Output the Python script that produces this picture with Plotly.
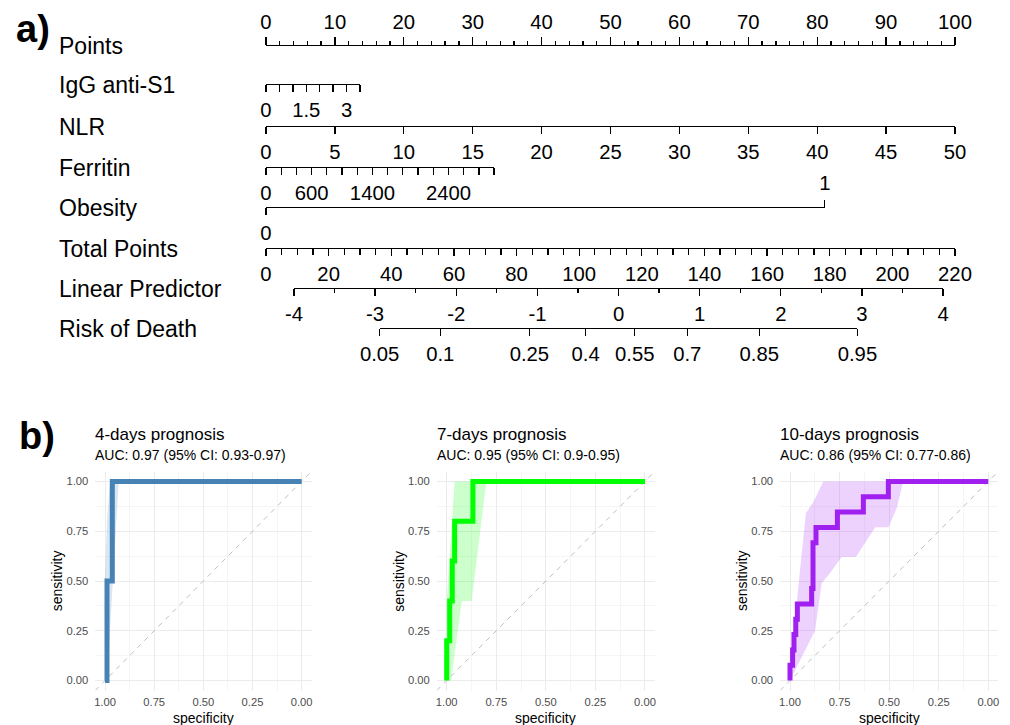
import math
import numpy as np
import plotly.graph_objects as go

W, H = 1010, 725
FONT = "Liberation Sans, Arial, sans-serif"

# ---------------- (a) Nomogram data ----------------
row_names = ["Points", "IgG anti-S1", "NLR", "Ferritin", "Obesity",
             "Total Points", "Linear Predictor", "Risk of Death"]

points_labels = list(range(0, 101, 10))
points_minor = list(range(0, 101, 2))

igg_labels = [0, 1.5, 3]
igg_minor = [0, 0.5, 1, 1.5, 2, 2.5, 3, 3.5]
igg_points_per_unit = 3.897

nlr_labels = list(range(0, 51, 5))
nlr_points_per_unit = 2.0

ferritin_labels = [0, 600, 1400, 2400]
ferritin_minor = list(range(0, 3001, 200))
ferritin_points_per_unit = 0.011033

obesity_levels = [0, 1]
obesity_points = [0, 81.1]

total_points_labels = list(range(0, 221, 20))
total_points_minor = list(range(0, 221, 5))
total_points_max = 220

lp_labels = [-4, -3, -2, -1, 0, 1, 2, 3, 4]
lp_minor = [-4, -3.5, -3, -2.5, -2, -1.5, -1, -0.5, 0, 0.5, 1, 1.5, 2, 2.5, 3, 3.5, 4]
lp_intercept = -4.345        # linear predictor at 0 total points
lp_per_total_point = 0.0386

risk_labels = [0.05, 0.1, 0.25, 0.4, 0.55, 0.7, 0.85, 0.95]

# ---------------- (b) ROC data ----------------
roc_titles = ["4-days prognosis", "7-days prognosis", "10-days prognosis"]
roc_subtitles = ["AUC: 0.97 (95% CI: 0.93-0.97)",
                 "AUC: 0.95 (95% CI: 0.9-0.95)",
                 "AUC: 0.86 (95% CI: 0.77-0.86)"]
roc_colors = ["#4682B4", "#00FF00", "#A020F0"]
roc_fills = ["rgba(70,130,180,0.2)", "rgba(0,255,0,0.2)", "rgba(160,32,240,0.2)"]

roc4_spec = [1.0, 0.99, 0.99, 0.963, 0.963, 0.0]
roc4_sens = [0.0, 0.0, 0.5, 0.5, 1.0, 1.0]
ci4_upper_spec = [1.0, 0.99, 0.975, 0.93]
ci4_upper_sens = [0.5, 0.8, 1.0, 1.0]
ci4_lower_spec = [0.93, 0.95, 0.975, 0.99, 1.0]
ci4_lower_sens = [1.0, 0.67, 0.25, 0.0, 0.0]

roc7_spec = [1.0, 1.0, 0.985, 0.985, 0.972, 0.972, 0.96, 0.96, 0.868, 0.868, 0.0]
roc7_sens = [0.0, 0.2, 0.2, 0.4, 0.4, 0.6, 0.6, 0.8, 0.8, 1.0, 1.0]
ci7_upper_spec = [1.0, 0.978, 0.96, 0.80]
ci7_upper_sens = [0.4, 0.73, 1.0, 1.0]
ci7_lower_spec = [0.80, 0.874, 0.924, 0.978, 1.0]
ci7_lower_sens = [1.0, 0.4, 0.4, 0.0, 0.0]

roc10_spec = [1.0, 1.0, 0.987, 0.987, 0.98, 0.98, 0.971, 0.971, 0.963, 0.963,
              0.891, 0.891, 0.884, 0.884, 0.869, 0.869, 0.761, 0.761,
              0.63, 0.63, 0.504, 0.504, 0.0]
roc10_sens = [0.0, 0.077, 0.077, 0.154, 0.154, 0.231, 0.231, 0.308, 0.308, 0.385,
              0.385, 0.462, 0.462, 0.692, 0.692, 0.769, 0.769, 0.846,
              0.846, 0.923, 0.923, 1.0, 1.0]
ci10_upper_spec = [1.0, 0.975, 0.95, 0.92, 0.88, 0.832, 0.43]
ci10_upper_sens = [0.0, 0.30, 0.55, 0.84, 0.90, 1.0, 1.0]
ci10_lower_spec = [0.43, 0.46, 0.504, 0.57, 0.668, 0.74, 0.798, 0.84, 0.874, 1.0]
ci10_lower_sens = [1.0, 0.87, 0.77, 0.77, 0.62, 0.62, 0.54, 0.49, 0.25, 0.0]

roc_curves = [(roc4_spec, roc4_sens), (roc7_spec, roc7_sens), (roc10_spec, roc10_sens)]
roc_cis = [(ci4_upper_spec, ci4_upper_sens, ci4_lower_spec, ci4_lower_sens),
           (ci7_upper_spec, ci7_upper_sens, ci7_lower_spec, ci7_lower_sens),
           (ci10_upper_spec, ci10_upper_sens, ci10_lower_spec, ci10_lower_sens)]
roc_ticks = [0, 0.25, 0.5, 0.75, 1.0]
roc_minor = [0.125, 0.375, 0.625, 0.875]

# ---------------- layout geometry (pixels) ----------------
X0_PX = 266.0           # pixel of 0 points
PX_PER_POINT = 6.89
row_y = [45, 84, 126, 167, 207, 248, 288, 328]
LW = 1.3
TICK_FONT = dict(family=FONT, size=20.3, color="black")

fig = go.Figure()
layout = {}


def pfrac(p):
    return (X0_PX + p * PX_PER_POINT) / W


def tp_to_points(tp):
    return tp * 100.0 / total_points_max


def lp_to_points(lp):
    return tp_to_points((lp - lp_intercept) / lp_per_total_point)


def fmt(v):
    return ("%g" % v)


axis_counter = [0]


def row_axis(p_lo, p_hi, rng, y_px, side, tickvals, ticktext, ticklen,
             minor_vals=None, minor_len=None, showline=True, standoff=0):
    axis_counter[0] += 1
    n = axis_counter[0]
    s = "" if n == 1 else str(n)
    ax = dict(domain=[pfrac(p_lo), pfrac(p_hi)], range=rng, anchor="free",
              position=1 - y_px / H, side=side, showline=showline,
              linecolor="black", linewidth=LW, ticks="outside", ticklen=ticklen,
              tickwidth=LW, tickcolor="black", tickmode="array",
              tickvals=tickvals, ticktext=ticktext, tickfont=TICK_FONT,
              showgrid=False, zeroline=False, fixedrange=True, automargin=False,
              ticklabelstandoff=standoff)
    if minor_vals is not None:
        ax["minor"] = dict(tickmode="array", tickvals=minor_vals, ticks="outside",
                           ticklen=minor_len, tickwidth=LW, tickcolor="black",
                           showgrid=False)
    layout["xaxis" + s] = ax
    layout["yaxis" + s] = dict(domain=[0, 1], range=[0, 1], visible=False,
                               fixedrange=True, automargin=False)
    fig.add_trace(go.Scatter(x=list(rng), y=[0.5, 0.5], xaxis="x" + s, yaxis="y" + s,
                             mode="markers", marker=dict(opacity=0),
                             hoverinfo="skip", showlegend=False))


# Points
row_axis(0, 100, [0, 100], row_y[0], "top", points_labels,
         [fmt(v) for v in points_labels], 8, points_minor, 4)
# IgG anti-S1
row_axis(0, igg_minor[-1] * igg_points_per_unit, [0, igg_minor[-1]], row_y[1], "bottom",
         igg_labels, [fmt(v) for v in igg_labels], 7, igg_minor, 7)
# NLR
row_axis(0, nlr_labels[-1] * nlr_points_per_unit, [0, nlr_labels[-1]], row_y[2], "bottom",
         nlr_labels, [fmt(v) for v in nlr_labels], 7)
# Ferritin
row_axis(0, ferritin_minor[-1] * ferritin_points_per_unit, [0, ferritin_minor[-1]],
         row_y[3], "bottom", ferritin_labels, [fmt(v) for v in ferritin_labels], 7,
         ferritin_minor, 7)
# Obesity (0 below, 1 above)
row_axis(obesity_points[0], obesity_points[1], [0, 1], row_y[4], "bottom",
         [obesity_levels[0]], [fmt(obesity_levels[0])], 7)
row_axis(obesity_points[0], obesity_points[1], [0, 1], row_y[4], "top",
         [obesity_levels[1]], [fmt(obesity_levels[1])], 7, showline=False, standoff=2)
# Total points
row_axis(0, 100, [0, total_points_max], row_y[5], "bottom", total_points_labels,
         [fmt(v) for v in total_points_labels], 7, total_points_minor, 6)
# Linear predictor
row_axis(lp_to_points(lp_labels[0]), lp_to_points(lp_labels[-1]),
         [lp_labels[0], lp_labels[-1]], row_y[6], "bottom", lp_labels,
         [fmt(v) for v in lp_labels], 7, lp_minor, 4)
# Risk of death (logit scale of linear predictor)
risk_lp = [math.log(p / (1 - p)) for p in risk_labels]
row_axis(lp_to_points(risk_lp[0]), lp_to_points(risk_lp[-1]),
         [risk_lp[0], risk_lp[-1]], row_y[7], "bottom", risk_lp,
         [fmt(v) for v in risk_labels], 7)

annotations = []
for name, y in zip(row_names, row_y):
    annotations.append(dict(text=name, x=57 / W, y=1 - (y + 1) / H, xref="paper", yref="paper",
                            xanchor="left", yanchor="middle", showarrow=False,
                            font=dict(family=FONT, size=23, color="black")))
annotations.append(dict(text="<b>a)</b>", x=14 / W, y=1 - 29 / H, xref="paper", yref="paper",
                        xanchor="left", yanchor="middle", showarrow=False,
                        font=dict(family=FONT, size=38, color="black")))
annotations.append(dict(text="<b>b)</b>", x=17 / W, y=1 - 436 / H, xref="paper", yref="paper",
                        xanchor="left", yanchor="middle", showarrow=False,
                        font=dict(family=FONT, size=38, color="black")))

# ---------------- ROC panels ----------------
panel_x = [(95.2, 311.5), (436.8, 654.9), (780.1, 998.2)]
panel_y = (471.5, 690.5)

for i in range(3):
    axis_counter[0] += 1
    n = axis_counter[0]
    s = str(n)
    x0, x1 = panel_x[i]
    layout["xaxis" + s] = dict(
        domain=[x0 / W, x1 / W], range=[1.05, -0.05], anchor="y" + s,
        tickmode="array", tickvals=roc_ticks, ticktext=["%.2f" % v for v in roc_ticks],
        ticks="", showline=False, zeroline=False, showgrid=True,
        gridcolor="#EBEBEB", gridwidth=1,
        minor=dict(tickmode="array", tickvals=roc_minor, showgrid=True,
                   gridcolor="#EBEBEB", gridwidth=0.5),
        tickfont=dict(family=FONT, size=11.2, color="#4D4D4D"),
        ticklabelstandoff=3, fixedrange=True, automargin=False)
    layout["yaxis" + s] = dict(
        domain=[1 - panel_y[1] / H, 1 - panel_y[0] / H], range=[-0.05, 1.05],
        anchor="x" + s,
        tickmode="array", tickvals=roc_ticks, ticktext=["%.2f" % v for v in roc_ticks],
        ticks="", showline=False, zeroline=False, showgrid=True,
        gridcolor="#EBEBEB", gridwidth=1,
        minor=dict(tickmode="array", tickvals=roc_minor, showgrid=True,
                   gridcolor="#EBEBEB", gridwidth=0.5),
        tickfont=dict(family=FONT, size=11.2, color="#4D4D4D"),
        ticklabelstandoff=6, fixedrange=True, automargin=False)

    us, un, ls, ln = roc_cis[i]
    fig.add_trace(go.Scatter(x=us + ls, y=un + ln, xaxis="x" + s, yaxis="y" + s,
                             mode="lines", fill="toself", fillcolor=roc_fills[i],
                             line=dict(width=0), hoverinfo="skip", showlegend=False))
    fig.add_trace(go.Scatter(x=[1.05, -0.05], y=[-0.05, 1.05], xaxis="x" + s, yaxis="y" + s,
                             mode="lines", line=dict(color="#BEBEBE", width=1, dash="5px,5px"),
                             hoverinfo="skip", showlegend=False))
    sp, se = roc_curves[i]
    fig.add_trace(go.Scatter(x=sp, y=se, xaxis="x" + s, yaxis="y" + s, mode="lines",
                             line=dict(color=roc_colors[i], width=5),
                             hoverinfo="skip", showlegend=False))

    annotations.append(dict(text=roc_titles[i], x=(x0 - 2) / W, y=1 - 434 / H,
                            xref="paper", yref="paper", xanchor="left", yanchor="middle",
                            showarrow=False, font=dict(family=FONT, size=17, color="black")))
    annotations.append(dict(text=roc_subtitles[i], x=(x0 - 2) / W, y=1 - 455 / H,
                            xref="paper", yref="paper", xanchor="left", yanchor="middle",
                            showarrow=False, font=dict(family=FONT, size=14, color="black")))
    annotations.append(dict(text="sensitivity", x=(x0 - 38) / W, y=1 - 581 / H,
                            xref="paper", yref="paper", xanchor="center", yanchor="middle",
                            textangle=-90, showarrow=False,
                            font=dict(family=FONT, size=14, color="black")))
    annotations.append(dict(text="specificity", x=(x0 + x1) / 2 / W, y=1 - 718 / H,
                            xref="paper", yref="paper", xanchor="center", yanchor="middle",
                            showarrow=False, font=dict(family=FONT, size=14, color="black")))

layout.update(dict(width=W, height=H, margin=dict(l=0, r=0, t=0, b=0, autoexpand=False),
                   paper_bgcolor="white", plot_bgcolor="rgba(0,0,0,0)",
                   showlegend=False, annotations=annotations,
                   font=dict(family=FONT)))
fig.update_layout(**layout)
fig.write_html("out.html", config={"staticPlot": True})
